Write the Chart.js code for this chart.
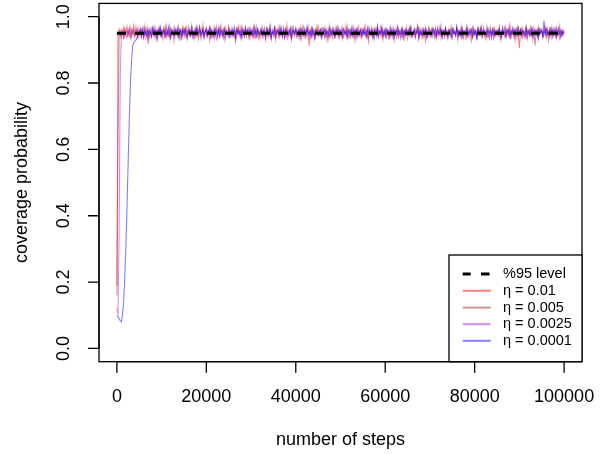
<!DOCTYPE html>
<html>
<head>
<meta charset="utf-8">
<script src="https://cdn.jsdelivr.net/npm/chart.js@4.4.1/dist/chart.umd.min.js"></script>
<style>
html,body{margin:0;padding:0;background:#fff;}
#wrap{width:608px;height:454px;position:relative;}
</style>
</head>
<body>
<div id="wrap"><canvas id="c" width="608" height="454"></canvas></div>
<script>
// ---- data ----
const xTicks = [0, 20000, 40000, 60000, 80000, 100000];
const yTicks = [0.0, 0.2, 0.4, 0.6, 0.8, 1.0];
const yTickLabels = ["0.0", "0.2", "0.4", "0.6", "0.8", "1.0"];
const seriesLabels = ["η = 0.01", "η = 0.005", "η = 0.0025", "η = 0.0001"];
const levelLabel = "%95 level";
const level = 0.95;
const levelRange = [0, 100000];

// step positions (x categories): every 250 steps from 0 to 100000 (20 per row below)
const steps = [];
for (let s = 0; s <= 100000; s += 250) steps.push(s);

const eta001 = [
.19,.95,.962,.94,.958,.947,.965,.939,.953,.970,.944,.958,.936,.961,.949,.972,.941,.955,.963,.937,
.951,.966,.940,.957,.945,.971,.936,.954,.918,.962,.948,.939,.967,.953,.943,.960,.931,.956,.969,.946,
.958,.935,.963,.950,.974,.942,.955,.938,.964,.949,.957,.929,.961,.952,.944,.970,.937,.959,.947,.965,
.940,.956,.968,.933,.953,.961,.945,.972,.939,.950,.963,.942,.958,.934,.966,.951,.947,.975,.938,.955,
.962,.944,.957,.930,.964,.952,.941,.968,.948,.956,.936,.961,.953,.973,.943,.959,.932,.965,.950,.946,
.969,.938,.954,.960,.942,.957,.927,.963,.949,.971,.944,.955,.937,.962,.951,.966,.940,.958,.946,.934,
.964,.950,.943,.970,.939,.956,.961,.935,.953,.948,.967,.941,.959,.931,.957,.963,.945,.972,.936,.952,
.947,.965,.932,.958,.950,.969,.942,.954,.938,.962,.956,.944,.974,.937,.951,.960,.929,.955,.966,.943,
.953,.940,.961,.949,.968,.935,.957,.946,.963,.939,.955,.971,.912,.950,.964,.942,.958,.933,.961,.948,
.970,.944,.952,.937,.965,.956,.941,.960,.930,.954,.967,.945,.958,.936,.962,.951,.943,.969,.939,.957,
.946,.963,.934,.955,.949,.972,.940,.957,.961,.938,.953,.944,.966,.931,.959,.950,.968,.942,.954,.936,
.960,.947,.971,.939,.952,.926,.964,.955,.943,.958,.935,.962,.950,.973,.941,.956,.946,.965,.933,.959,
.944,.957,.962,.936,.950,.967,.942,.955,.930,.961,.948,.970,.938,.953,.945,.964,.937,.958,.951,.966,
.935,.959,.948,.969,.943,.954,.961,.939,.957,.972,.933,.952,.946,.963,.940,.956,.928,.960,.949,.967,
.954,.941,.966,.950,.937,.962,.947,.958,.944,.971,.936,.953,.960,.942,.965,.950,.934,.957,.948,.969,
.939,.962,.951,.945,.968,.932,.956,.949,.964,.940,.958,.953,.937,.970,.946,.955,.961,.929,.952,.963,
.948,.957,.936,.966,.944,.953,.971,.940,.959,.950,.934,.962,.955,.943,.967,.938,.956,.947,.964,.941,
.958,.945,.969,.933,.954,.961,.948,.939,.966,.952,.944,.973,.937,.957,.950,.963,.931,.955,.968,.942,
.905,.951,.964,.938,.956,.947,.970,.935,.953,.960,.943,.958,.932,.965,.949,.957,.940,.967,.946,.954,
.961,.937,.952,.969,.944,.956,.930,.963,.948,.959,.941,.966,.953,.938,.957,.946,.971,.939,.955,.950,
.948];

const eta0005 = [
.16,.62,.945,.958,.941,.955,.936,.962,.949,.957,.943,.966,.951,.938,.960,.947,.954,.969,.940,.952,
.956,.943,.961,.949,.938,.964,.952,.945,.958,.936,.962,.950,.947,.966,.940,.955,.959,.944,.953,.963,
.942,.957,.951,.967,.939,.954,.946,.960,.935,.958,.952,.944,.965,.949,.956,.937,.961,.953,.941,.968,
.950,.962,.938,.955,.947,.964,.943,.957,.951,.934,.960,.948,.966,.942,.953,.959,.940,.962,.946,.954,
.967,.941,.956,.950,.963,.937,.952,.958,.944,.969,.945,.955,.939,.961,.951,.947,.964,.936,.957,.949,
.953,.960,.942,.966,.948,.955,.933,.962,.950,.957,.943,.968,.940,.954,.959,.946,.951,.963,.938,.956,
.945,.958,.951,.939,.964,.947,.961,.953,.936,.959,.949,.955,.967,.942,.950,.962,.944,.957,.935,.960,
.952,.940,.965,.948,.956,.943,.969,.951,.946,.958,.937,.963,.950,.945,.960,.953,.939,.966,.949,.955,
.961,.947,.954,.936,.959,.952,.944,.967,.941,.955,.960,.948,.957,.938,.964,.950,.946,.958,.943,.969,
.944,.956,.962,.950,.940,.963,.955,.947,.958,.934,.961,.951,.945,.966,.952,.939,.957,.949,.965,.942,
.957,.949,.938,.960,.953,.945,.968,.940,.955,.962,.947,.951,.936,.959,.954,.963,.943,.950,.961,.946,
.951,.964,.944,.955,.961,.937,.958,.950,.966,.942,.953,.957,.940,.962,.948,.956,.945,.967,.939,.953,
.960,.941,.957,.949,.936,.963,.952,.945,.959,.954,.938,.965,.947,.951,.960,.943,.956,.934,.962,.950,
.946,.955,.967,.942,.953,.948,.961,.939,.956,.950,.964,.944,.958,.937,.954,.949,.963,.952,.941,.966,
.955,.943,.950,.962,.947,.957,.935,.960,.952,.946,.968,.941,.955,.959,.945,.951,.938,.961,.954,.948,
.939,.961,.953,.946,.965,.950,.942,.957,.948,.962,.936,.955,.951,.944,.963,.940,.958,.953,.967,.945,
.958,.950,.937,.963,.954,.944,.960,.949,.966,.941,.953,.957,.946,.934,.961,.952,.947,.964,.943,.956,
.951,.945,.962,.940,.956,.968,.947,.953,.938,.959,.950,.963,.942,.957,.949,.955,.961,.936,.952,.965,
.947,.959,.942,.964,.950,.955,.939,.961,.952,.946,.967,.943,.957,.950,.913,.958,.944,.962,.948,.954,
.960,.943,.956,.951,.937,.963,.949,.958,.945,.966,.940,.954,.950,.962,.947,.955,.935,.959,.952,.944,
.953];

const eta00025 = [
.12,.10,.35,.82,.945,.957,.942,.963,.950,.936,.959,.947,.968,.943,.954,.961,.939,.956,.948,.965,
.949,.962,.940,.955,.967,.945,.952,.938,.960,.951,.943,.965,.954,.947,.969,.936,.957,.950,.963,.942,
.956,.948,.964,.937,.953,.960,.944,.971,.941,.955,.950,.966,.939,.958,.946,.962,.952,.935,.959,.949,
.963,.941,.957,.952,.968,.943,.950,.961,.938,.955,.947,.970,.944,.953,.958,.936,.964,.951,.945,.960,
.942,.958,.950,.965,.939,.956,.948,.962,.953,.934,.960,.946,.967,.950,.943,.957,.963,.940,.955,.952,
.968,.945,.954,.940,.961,.951,.957,.937,.964,.949,.955,.943,.969,.952,.938,.960,.947,.956,.966,.944,
.951,.957,.936,.962,.948,.970,.943,.955,.950,.965,.939,.958,.953,.945,.963,.941,.954,.960,.935,.958,
.944,.966,.952,.947,.959,.938,.962,.954,.942,.968,.950,.956,.937,.961,.948,.953,.967,.943,.957,.949,
.960,.940,.956,.963,.945,.952,.969,.941,.955,.948,.962,.936,.958,.951,.944,.966,.950,.939,.961,.954,
.947,.955,.943,.964,.951,.958,.937,.960,.953,.946,.971,.942,.956,.950,.963,.940,.957,.949,.965,.938,
.959,.950,.966,.941,.954,.947,.962,.952,.939,.958,.944,.968,.951,.955,.936,.963,.948,.957,.942,.960,
.945,.963,.949,.956,.940,.967,.953,.946,.960,.951,.937,.964,.955,.943,.958,.950,.969,.941,.954,.947,
.962,.939,.955,.951,.965,.944,.957,.936,.961,.953,.948,.966,.942,.956,.950,.963,.938,.959,.952,.945,
.953,.960,.943,.968,.949,.955,.941,.962,.950,.957,.935,.964,.947,.953,.960,.944,.967,.951,.940,.958,
.941,.956,.962,.948,.953,.967,.939,.955,.950,.963,.945,.958,.952,.938,.965,.949,.956,.943,.961,.950,
.964,.947,.953,.940,.960,.951,.957,.944,.969,.942,.954,.950,.961,.937,.956,.948,.963,.953,.939,.966,
.950,.958,.938,.963,.946,.954,.965,.941,.952,.959,.947,.970,.943,.955,.950,.936,.962,.957,.945,.953,
.957,.944,.961,.951,.936,.966,.949,.955,.942,.960,.953,.947,.967,.940,.958,.951,.944,.963,.950,.939,
.946,.962,.950,.957,.943,.955,.968,.938,.954,.961,.945,.952,.964,.941,.957,.949,.960,.936,.955,.963,
.952,.940,.958,.947,.965,.953,.944,.960,.950,.937,.962,.955,.946,.968,.943,.956,.951,.939,.961,.948,
.955];

const eta00001 = [
.10,.095,.09,.083,.08,.10,.14,.21,.30,.42,.55,.68,.79,.86,.91,.92,.925,.93,.935,.945,
.950,.958,.944,.963,.937,.955,.948,.966,.941,.957,.952,.939,.964,.946,.959,.953,.935,.961,.949,.968,
.943,.956,.960,.940,.954,.947,.969,.951,.938,.962,.955,.945,.958,.950,.966,.942,.953,.961,.936,.957,
.952,.964,.946,.939,.959,.955,.943,.967,.950,.957,.940,.963,.948,.954,.970,.944,.951,.960,.937,.956,
.961,.945,.953,.968,.942,.958,.950,.936,.963,.952,.947,.965,.941,.955,.959,.938,.962,.949,.956,.944,
.938,.960,.951,.957,.945,.966,.940,.954,.962,.948,.956,.935,.961,.953,.943,.967,.950,.958,.946,.963,
.955,.942,.968,.950,.956,.939,.962,.947,.953,.960,.944,.958,.951,.937,.965,.952,.948,.970,.941,.954,
.949,.963,.940,.955,.961,.946,.952,.967,.943,.957,.938,.962,.954,.950,.945,.964,.939,.956,.959,.947,
.966,.951,.944,.958,.937,.963,.955,.948,.960,.942,.969,.953,.946,.957,.940,.961,.952,.936,.958,.950,
.944,.957,.962,.939,.953,.949,.965,.943,.956,.951,.938,.963,.947,.959,.954,.941,.967,.950,.945,.960,
.953,.940,.958,.964,.947,.955,.936,.961,.952,.946,.966,.942,.957,.950,.963,.939,.954,.948,.962,.944,
.960,.948,.952,.941,.967,.950,.956,.944,.959,.937,.962,.953,.945,.969,.940,.955,.951,.963,.946,.958,
.941,.963,.950,.957,.943,.960,.948,.965,.939,.954,.958,.946,.962,.951,.935,.964,.949,.956,.942,.961,
.957,.945,.966,.952,.938,.955,.961,.947,.953,.968,.941,.956,.950,.943,.962,.948,.959,.937,.954,.951,
.948,.959,.942,.963,.956,.940,.952,.967,.946,.955,.961,.938,.957,.949,.964,.944,.953,.960,.950,.936,
.962,.950,.955,.945,.969,.941,.958,.951,.936,.963,.947,.956,.952,.966,.942,.954,.948,.961,.939,.957,
.945,.956,.938,.961,.950,.966,.943,.955,.959,.947,.953,.940,.964,.951,.957,.945,.962,.936,.958,.952,
.959,.947,.963,.952,.940,.957,.950,.968,.944,.956,.962,.939,.954,.948,.965,.942,.960,.953,.946,.967,
.950,.961,.944,.956,.953,.938,.964,.949,.958,.943,.955,.967,.941,.952,.960,.946,.957,.935,.963,.951,
.956,.943,.988,.950,.962,.947,.954,.940,.965,.951,.958,.945,.961,.937,.953,.966,.949,.955,.942,.959,
.952];

const seriesValues = [eta001, eta0005, eta00025, eta00001];
const seriesColors = ["rgba(255,0,0,0.5)", "rgba(165,42,42,0.5)", "rgba(160,32,240,0.5)", "rgba(0,0,255,0.5)"];

// ---- chart ----
const FONT = '"Liberation Sans", Arial, Helvetica, sans-serif';

const datasets = [];
datasets.push({
  label: levelLabel,
  data: levelRange.map(x => ({x: x, y: level})),
  borderColor: "#000",
  borderWidth: 3,
  borderDash: [9, 9],
  pointRadius: 0,
  order: 1
});
seriesValues.forEach((vals, i) => {
  datasets.push({
    label: seriesLabels[i],
    data: steps.map((s, j) => ({x: s, y: vals[j]})),
    borderColor: seriesColors[i],
    borderWidth: 1.1,
    pointRadius: 0,
    tension: 0,
    order: 5 - i
  });
});

const rAxes = {
  id: 'rAxes',
  afterDraw(chart) {
    const ctx = chart.ctx;
    const a = chart.chartArea;
    const xs = chart.scales.x, ys = chart.scales.y;
    ctx.save();
    ctx.strokeStyle = "#000";
    ctx.fillStyle = "#000";
    ctx.lineWidth = 1.3;
    ctx.strokeRect(a.left, a.top, a.right - a.left, a.bottom - a.top);
    ctx.beginPath();
    const x0 = xs.getPixelForValue(xTicks[0]), x1 = xs.getPixelForValue(xTicks[xTicks.length - 1]);
    ctx.moveTo(x0, a.bottom); ctx.lineTo(x1, a.bottom);
    xTicks.forEach(t => {
      const px = xs.getPixelForValue(t);
      ctx.moveTo(px, a.bottom); ctx.lineTo(px, a.bottom + 11);
    });
    const y0 = ys.getPixelForValue(yTicks[0]), y1 = ys.getPixelForValue(yTicks[yTicks.length - 1]);
    ctx.moveTo(a.left, y0); ctx.lineTo(a.left, y1);
    yTicks.forEach(t => {
      const py = ys.getPixelForValue(t);
      ctx.moveTo(a.left, py); ctx.lineTo(a.left - 11, py);
    });
    ctx.stroke();
    ctx.font = "18px " + FONT;
    ctx.textAlign = "center";
    ctx.textBaseline = "middle";
    xTicks.forEach(t => {
      ctx.fillText(String(t), xs.getPixelForValue(t), a.bottom + 35);
    });
    yTicks.forEach((t, i) => {
      ctx.save();
      ctx.translate(a.left - 35, ys.getPixelForValue(t));
      ctx.rotate(-Math.PI / 2);
      ctx.fillText(yTickLabels[i], 0, 0);
      ctx.restore();
    });
    ctx.fillText("number of steps", (a.left + a.right) / 2, 440);
    ctx.save();
    ctx.translate(22, (a.top + a.bottom) / 2);
    ctx.rotate(-Math.PI / 2);
    ctx.fillText("coverage probability", 0, 0);
    ctx.restore();

    // legend (bottom right)
    const lx = 449, ly = 255;
    ctx.fillStyle = "#fff";
    ctx.fillRect(lx, ly, a.right - lx, a.bottom - ly);
    ctx.strokeStyle = "#000";
    ctx.lineWidth = 1.3;
    ctx.strokeRect(lx, ly, a.right - lx, a.bottom - ly);
    const rowY = [274, 290.8, 307.6, 324.2, 340.8];
    ctx.font = "14.5px " + FONT;
    ctx.textAlign = "left";
    ctx.fillStyle = "#000";
    ctx.lineWidth = 3;
    ctx.strokeStyle = "#000";
    ctx.beginPath();
    ctx.moveTo(462.7, rowY[0]); ctx.lineTo(470.7, rowY[0]);
    ctx.moveTo(481, rowY[0]); ctx.lineTo(489.5, rowY[0]);
    ctx.stroke();
    ctx.fillText(levelLabel, 503, rowY[0]);
    seriesLabels.forEach((lab, i) => {
      const y = rowY[i + 1];
      ctx.strokeStyle = seriesColors[i];
      ctx.lineWidth = 2;
      ctx.beginPath();
      ctx.moveTo(462.7, y); ctx.lineTo(490.7, y);
      ctx.stroke();
      ctx.fillStyle = "#000";
      ctx.fillText(lab, 503, y);
    });
    ctx.restore();
  }
};

new Chart(document.getElementById("c"), {
  type: "line",
  data: { datasets: datasets },
  options: {
    responsive: false,
    animation: false,
    events: [],
    layout: { padding: { left: 99, top: 3.4, right: 26, bottom: 92.3 } },
    plugins: { legend: { display: false }, tooltip: { enabled: false } },
    scales: {
      x: { type: "linear", min: -4000, max: 104000, display: false },
      y: { type: "linear", min: -0.04, max: 1.04, display: false }
    }
  },
  plugins: [rAxes]
});
</script>
</body>
</html>
